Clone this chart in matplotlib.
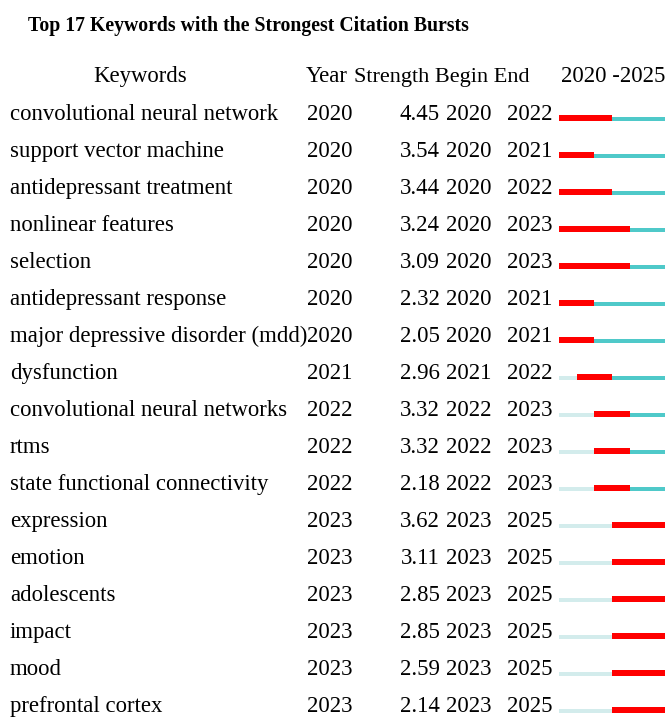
import matplotlib.pyplot as plt

# burst data
keywords = ["convolutional neural network", "support vector machine",
            "antidepressant treatment", "nonlinear features", "selection",
            "antidepressant response", "major depressive disorder (mdd)",
            "dysfunction", "convolutional neural networks", "rtms",
            "state functional connectivity", "expression", "emotion",
            "adolescents", "impact", "mood", "prefrontal cortex"]
years = [2020, 2020, 2020, 2020, 2020, 2020, 2020, 2021, 2022, 2022, 2022,
         2023, 2023, 2023, 2023, 2023, 2023]
strength = [4.45, 3.54, 3.44, 3.24, 3.09, 2.32, 2.05, 2.96, 3.32, 3.32, 2.18,
            3.62, 3.11, 2.85, 2.85, 2.59, 2.14]
begin = [2020, 2020, 2020, 2020, 2020, 2020, 2020, 2021, 2022, 2022, 2022,
         2023, 2023, 2023, 2023, 2023, 2023]
end = [2022, 2021, 2022, 2023, 2023, 2021, 2021, 2022, 2023, 2023, 2023,
       2025, 2025, 2025, 2025, 2025, 2025]
start_year, end_year = 2020, 2025

plt.rcParams['font.family'] = ['Liberation Serif', 'DejaVu Serif']

W, H = 667, 717
fig = plt.figure(figsize=(W / 100, H / 100), dpi=100)
ax = fig.add_axes([0, 0, 1, 1])
ax.set_xlim(0, W)
ax.set_ylim(H, 0)
ax.axis('off')

# bar area gets its own axes so years map through the x scale
bx = fig.add_axes([559 / W, 0, (665 - 559) / W, 1])
bx.set_xlim(start_year, end_year + 1)
bx.set_ylim(H, 0)
bx.axis('off')

fs = 16.4
y0, dy = 120, 37

ax.text(248, 31, "Top 17 Keywords with the Strongest Citation Bursts",
        ha='center', va='baseline', fontsize=14.2, weight='bold')

hy = 82
ax.text(140, hy, "Keywords", ha='center', va='baseline', fontsize=fs)
ax.text(306, hy, "Year", ha='left', va='baseline', fontsize=fs)
ax.text(530, hy, "Strength Begin End", ha='right', va='baseline', fontsize=16)
ax.text(665, hy, f"{start_year} -{end_year}", ha='right', va='baseline', fontsize=fs)

light = '#d3ecec'
cyan = '#4fc9c9'
red = '#ff0000'

for i, kw in enumerate(keywords):
    y = y0 + i * dy
    ax.text(10, y, kw, ha='left', va='baseline', fontsize=fs)
    ax.text(307, y, str(years[i]), ha='left', va='baseline', fontsize=fs)
    ax.text(440, y, f"{strength[i]:.2f}", ha='right', va='baseline', fontsize=fs)
    ax.text(446, y, str(begin[i]), ha='left', va='baseline', fontsize=fs)
    ax.text(507, y, str(end[i]), ha='left', va='baseline', fontsize=fs)

    # thin line: before first appearance (light) and after (cyan)
    if years[i] > start_year:
        bx.barh(y - 1, years[i] - start_year, left=start_year, height=4,
                color=light, linewidth=0)
    bx.barh(y - 1, end_year + 1 - years[i], left=years[i], height=4,
            color=cyan, linewidth=0)
    # burst period in red
    bx.barh(y - 2, end[i] - begin[i] + 1, left=begin[i], height=6,
            color=red, linewidth=0)

fig.savefig("out.png", dpi=100)
